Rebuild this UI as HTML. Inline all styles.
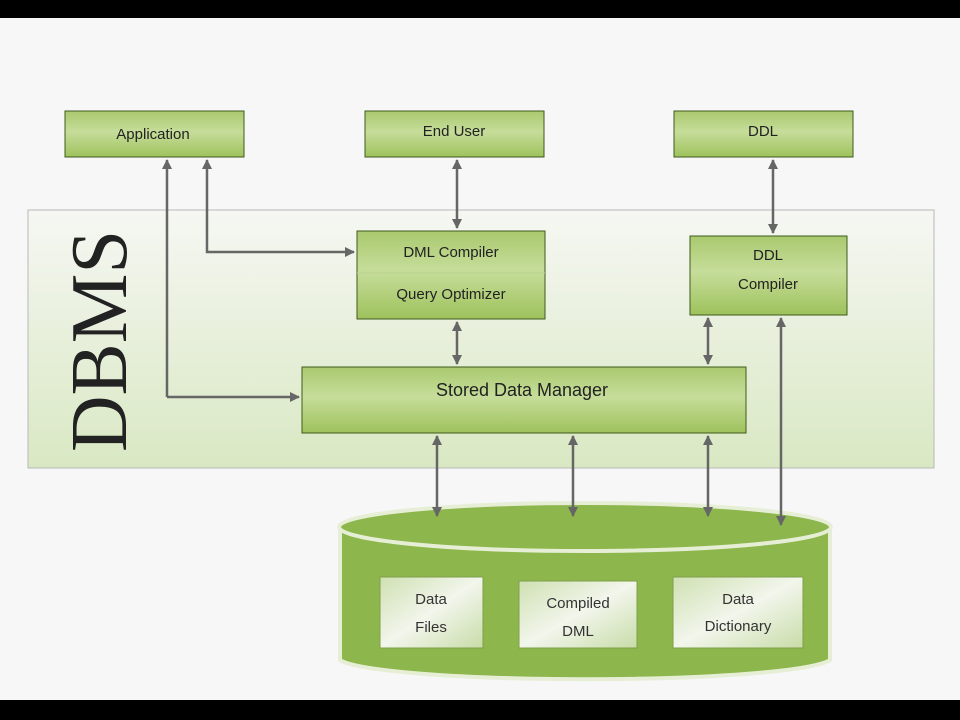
<!DOCTYPE html>
<html><head><meta charset="utf-8"><style>html,body{margin:0;padding:0;background:#000}svg{display:block}</style></head><body>
<svg width="960" height="720" viewBox="0 0 960 720" xmlns="http://www.w3.org/2000/svg" font-family="Liberation Sans, sans-serif">
<defs>
<linearGradient id="g" x1="0" y1="0" x2="0" y2="1"><stop offset="0" stop-color="#a9c96e"/><stop offset="0.45" stop-color="#c6dd9a"/><stop offset="1" stop-color="#9ec25c"/></linearGradient>
<linearGradient id="panel" x1="0" y1="0" x2="0" y2="1"><stop offset="0" stop-color="#f6f7f3"/><stop offset="1" stop-color="#d9e8c3"/></linearGradient>
<linearGradient id="inner" x1="0" y1="0" x2="1" y2="1"><stop offset="0" stop-color="#cfe0b2"/><stop offset="0.5" stop-color="#f2f6ec"/><stop offset="1" stop-color="#c8dca8"/></linearGradient>
<marker id="a" viewBox="0 0 10 10" refX="9" refY="5" markerWidth="4" markerHeight="4" orient="auto-start-reverse"><path d="M0,0L10,5L0,10z" fill="#666"/></marker>
</defs>
<rect x="0" y="18" width="960" height="682" fill="#f7f7f7"/>
<rect x="28" y="210" width="906" height="258" fill="url(#panel)" stroke="#b8b8b8"/>
<text transform="translate(126,452) rotate(-90)" font-family="Liberation Serif, serif" font-size="80" textLength="222" lengthAdjust="spacingAndGlyphs" fill="#222">DBMS</text>
<g stroke="#3f5a1c" stroke-width="1" fill="url(#g)">
<rect x="65" y="111" width="179" height="46"/>
<rect x="365" y="111" width="179" height="46"/>
<rect x="674" y="111" width="179" height="46"/>
<rect x="357" y="231" width="188" height="88"/>
<rect x="690" y="236" width="157" height="79"/>
<rect x="302" y="367" width="444" height="66"/>
</g>
<line x1="357" y1="273" x2="545" y2="273" stroke="#b9cf92"/>
<g font-size="15" fill="#222" text-anchor="middle">
<text x="153" y="139">Application</text>
<text x="454" y="136">End User</text>
<text x="763" y="136">DDL</text>
<text x="451" y="257">DML Compiler</text>
<text x="451" y="299">Query Optimizer</text>
<text x="768" y="260">DDL</text>
<text x="768" y="289">Compiler</text>
<text x="522" y="396" font-size="18">Stored Data Manager</text>
</g>
<g stroke="#666" stroke-width="2.5" fill="none">
<path d="M167,397V160" marker-end="url(#a)"/>
<path d="M167,397H299" marker-end="url(#a)"/>
<path d="M207,160V252H354" marker-start="url(#a)" marker-end="url(#a)"/>
<path d="M457,160V228" marker-start="url(#a)" marker-end="url(#a)"/>
<path d="M457,322V364" marker-start="url(#a)" marker-end="url(#a)"/>
<path d="M773,160V233" marker-start="url(#a)" marker-end="url(#a)"/>
<path d="M708,318V364" marker-start="url(#a)" marker-end="url(#a)"/>
</g>
<path d="M340,527V660A247,22 0 0 0 830,660V527z" fill="#8db64c" stroke="#e6efd6" stroke-width="4"/>
<ellipse cx="585" cy="527" rx="246" ry="24" fill="#8db64c" stroke="#e6efd6" stroke-width="4"/>
<g stroke="#666" stroke-width="2.5" fill="none">
<path d="M437,436V516" marker-start="url(#a)" marker-end="url(#a)"/>
<path d="M573,436V516" marker-start="url(#a)" marker-end="url(#a)"/>
<path d="M708,436V516" marker-start="url(#a)" marker-end="url(#a)"/>
<path d="M781,318V525" marker-start="url(#a)" marker-end="url(#a)"/>
</g>
<g stroke="#7fa048" fill="url(#inner)">
<rect x="380" y="577" width="103" height="71"/>
<rect x="519" y="581" width="118" height="67"/>
<rect x="673" y="577" width="130" height="71"/>
</g>
<g font-size="15" fill="#333" text-anchor="middle">
<text x="431" y="604">Data</text>
<text x="431" y="632">Files</text>
<text x="578" y="608">Compiled</text>
<text x="578" y="636">DML</text>
<text x="738" y="604">Data</text>
<text x="738" y="631">Dictionary</text>
</g>
</svg>
</body></html>
